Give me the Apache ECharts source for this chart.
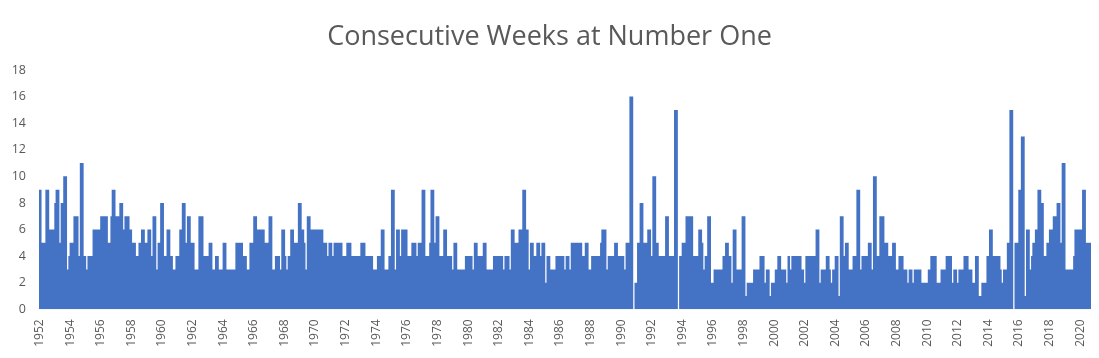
<!DOCTYPE html>
<html>
<head>
<meta charset="utf-8">
<script src="https://cdn.jsdelivr.net/npm/echarts@6/dist/echarts.min.js"></script>
<style>
  html, body { margin: 0; padding: 0; background: #ffffff; }
  #chart { width: 1099px; height: 358px; }
</style>
</head>
<body>
<div id="chart"></div>
<script>
// Chart title
const chartTitle = 'Consecutive Weeks at Number One';

// Monthly slots, first slot = January of firstYear
const firstYear = 1952;

// Consecutive weeks at number one (value shown for each month), Jan 1952 – Sep 2020
const consecutiveWeeks = [
  9,9,5,5,5,9,9,9,6,6,6,6,        // 1952
  8,9,9,9,5,8,8,10,10,10,3,4,     // 1953
  5,5,5,7,7,7,7,4,11,11,11,4,     // 1954
  4,3,4,4,4,4,6,6,6,6,6,6,        // 1955
  7,7,7,7,7,7,5,5,7,9,9,9,        // 1956
  7,7,7,8,8,8,6,7,7,7,7,6,        // 1957
  6,5,5,5,4,4,5,5,6,6,6,5,        // 1958
  5,6,6,6,4,7,7,7,3,5,5,8,        // 1959
  8,8,4,4,6,6,6,4,4,3,3,4,        // 1960
  4,4,6,6,8,8,8,5,7,7,7,5,        // 1961
  5,5,3,3,3,7,7,7,7,4,4,4,        // 1962
  4,5,5,5,3,3,4,4,4,3,3,3,        // 1963
  5,5,5,3,3,3,3,3,3,3,5,5,        // 1964
  5,5,5,5,4,4,4,3,3,5,5,5,        // 1965
  7,7,7,6,6,6,6,6,6,5,5,5,        // 1966
  7,7,7,3,3,4,4,4,4,3,6,6,        // 1967
  6,4,3,4,4,6,6,6,5,5,5,8,        // 1968
  8,8,6,6,5,3,7,7,7,6,6,6,        // 1969
  6,6,6,6,6,6,6,5,5,5,4,5,        // 1970
  5,5,4,5,5,5,5,5,5,5,4,4,        // 1971
  4,5,5,5,5,4,4,4,4,4,4,4,        // 1972
  5,5,5,5,4,4,4,4,4,4,3,3,        // 1973
  3,4,4,4,6,6,6,3,3,3,4,4,        // 1974
  9,9,9,3,6,6,6,4,6,6,6,6,        // 1975
  6,4,4,4,5,5,5,5,4,5,5,5,        // 1976
  9,9,9,4,4,4,5,9,9,9,5,7,        // 1977
  7,7,4,4,4,6,6,6,4,4,4,4,        // 1978
  3,5,5,5,3,3,3,3,3,3,4,4,        // 1979
  4,4,4,4,3,5,5,5,4,4,4,4,        // 1980
  5,5,5,3,3,3,3,3,4,4,4,4,        // 1981
  4,4,4,4,3,4,4,4,4,3,6,6,        // 1982
  6,5,5,5,6,6,6,9,9,9,6,6,        // 1983
  3,5,5,5,4,4,5,5,5,4,5,5,        // 1984
  5,2,4,4,4,3,3,3,3,4,4,4,        // 1985
  4,4,4,4,3,4,4,4,3,5,5,5,        // 1986
  5,5,5,5,5,5,4,4,5,5,5,3,        // 1987
  3,4,4,4,4,4,4,4,5,6,6,6,        // 1988
  6,3,4,4,4,4,4,5,5,5,4,4,        // 1989
  4,4,4,3,5,5,5,16,16,16,0,2,     // 1990
  2,5,5,8,8,8,5,5,5,6,6,6,        // 1991
  4,10,10,10,5,5,4,4,4,4,4,7,     // 1992
  7,7,4,4,4,4,15,15,15,0,4,4,     // 1993
  5,5,5,7,7,7,7,7,7,4,4,4,        // 1994
  4,6,6,6,5,3,4,4,7,7,7,2,        // 1995
  2,3,3,3,3,3,3,3,4,4,5,5,        // 1996
  5,4,4,2,6,6,6,3,3,3,3,7,        // 1997
  7,7,1,2,2,2,2,2,3,3,3,3,        // 1998
  3,4,4,4,4,2,3,3,3,1,2,2,        // 1999
  2,3,3,4,4,4,3,3,3,3,2,4,        // 2000
  4,3,4,4,4,4,4,4,4,4,3,3,        // 2001
  2,4,4,4,4,4,4,4,4,6,6,6,        // 2002
  2,3,3,3,3,4,4,4,3,2,3,3,        // 2003
  4,4,4,1,7,7,7,4,5,5,5,3,        // 2004
  3,3,4,4,4,9,9,9,3,4,4,4,        // 2005
  4,4,5,5,5,3,10,10,10,4,4,7,     // 2006
  7,7,7,5,5,5,4,4,4,5,5,5,        // 2007
  3,3,4,4,4,4,3,3,3,2,3,3,        // 2008
  3,2,3,3,3,3,3,3,2,2,2,2,        // 2009
  2,3,3,4,4,4,4,4,2,2,2,3,        // 2010
  3,3,3,4,4,4,4,4,2,3,3,3,        // 2011
  2,3,3,3,3,4,4,4,4,3,3,3,        // 2012
  2,2,4,4,4,1,1,2,2,2,2,4,        // 2013
  4,6,6,6,4,4,4,4,4,4,3,2,        // 2014
  3,3,3,5,5,15,15,15,0,5,5,5,     // 2015
  9,9,13,13,13,1,6,6,6,3,4,5,     // 2016
  5,6,6,9,9,9,8,8,4,4,5,5,        // 2017
  6,6,6,7,7,7,8,8,8,5,11,11,      // 2018
  11,3,3,3,3,3,3,4,6,6,6,6,       // 2019
  6,6,9,9,9,5,5,5,5               // 2020
];

// Y axis scale
const yMin = 0, yMax = 18, yStep = 2;
// X tick labels every second year (January slots)
const tickEveryMonths = 24;

// Category labels (one per month) built from firstYear
const categories = consecutiveWeeks.map(function (_, i) {
  const y = firstYear + Math.floor(i / 12);
  const m = (i % 12) + 1;
  return y + '-' + (m < 10 ? '0' + m : m);
});

const chart = echarts.init(document.getElementById('chart'), null, { renderer: 'canvas' });
chart.setOption({
  animation: false,
  backgroundColor: '#ffffff',
  title: {
    text: chartTitle,
    left: 'center',
    top: 19,
    textStyle: {
      fontFamily: 'Open Sans',
      fontSize: 27,
      fontWeight: 'normal',
      color: '#595959'
    }
  },
  grid: { left: 39, right: 8, top: 70, bottom: 48.7, containLabel: false },
  xAxis: {
    type: 'category',
    data: categories,
    boundaryGap: true,
    axisLine: { show: false },
    axisTick: { show: false },
    axisLabel: {
      rotate: 90,
      margin: 10,
      color: '#595959',
      fontFamily: 'Open Sans',
      fontSize: 12,
      interval: function (index) { return index % tickEveryMonths === 0; },
      formatter: function (v) { return v.slice(0, 4); }
    },
    splitLine: { show: false }
  },
  yAxis: {
    type: 'value',
    min: yMin,
    max: yMax,
    interval: yStep,
    axisLine: { show: false },
    axisTick: { show: false },
    splitLine: { show: false },
    axisLabel: {
      margin: 13,
      color: '#595959',
      fontFamily: 'Open Sans',
      fontSize: 12.5
    }
  },
  series: [{
    type: 'bar',
    data: consecutiveWeeks,
    barCategoryGap: '0%',
    barGap: '0%',
    large: true,
    largeThreshold: 100,
    itemStyle: { color: '#4472C4' },
    emphasis: { disabled: true }
  }]
});
</script>
</body>
</html>
